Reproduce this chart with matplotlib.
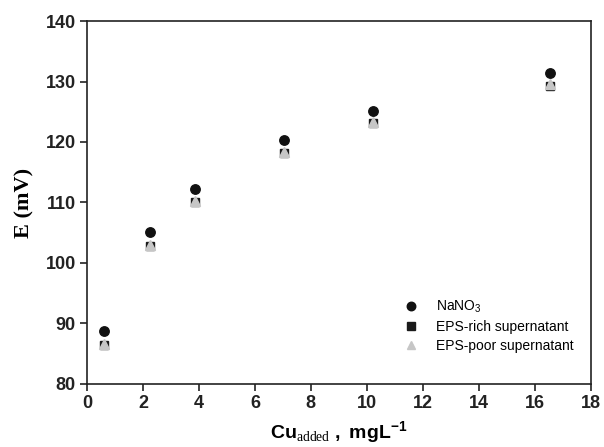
import matplotlib
matplotlib.use('Agg')
import matplotlib.pyplot as plt

cu_added = [0.62, 2.25, 3.85, 7.05, 10.22, 16.55]
e_nano3 = [88.8, 105.2, 112.3, 120.3, 125.2, 131.4]
e_eps_rich = [86.5, 102.8, 110.0, 118.2, 123.1, 129.3]
e_eps_poor = [86.6, 102.9, 110.3, 118.4, 123.3, 129.6]

x_ticks = list(range(0, 19, 2))
y_ticks = list(range(80, 141, 10))

plt.rcParams['mathtext.fontset'] = 'custom'
plt.rcParams['mathtext.rm'] = 'Liberation Serif'
plt.rcParams['mathtext.bf'] = 'Liberation Sans:bold'
plt.rcParams['mathtext.sf'] = 'Liberation Sans'
plt.rcParams['mathtext.it'] = 'Liberation Sans:italic'

fig = plt.figure(figsize=(6.04, 4.47), dpi=100)
ax = fig.add_axes([0.144, 0.141, 0.834, 0.812])

ax.plot(cu_added, e_nano3, 'o', color='#111111', ms=6.8, label=r'NaNO$_\mathsf{3}$', zorder=3)
ax.plot(cu_added, e_eps_rich, 's', color='#1a1a1a', ms=6.3, label='EPS-rich supernatant', zorder=3)
ax.plot(cu_added, e_eps_poor, '^', color='#c6c6c6', ms=7, label='EPS-poor supernatant', zorder=4)

ax.set_xlim(0, 18)
ax.set_ylim(80, 140)
ax.set_xticks(x_ticks)
ax.set_yticks(y_ticks)
for lab in ax.get_xticklabels() + ax.get_yticklabels():
    lab.set_fontfamily('Liberation Sans')
    lab.set_fontweight('bold')
    lab.set_fontsize(13)
ax.tick_params(direction='out', length=5, width=1.2, colors='#222222', pad=3)
for s in ax.spines.values():
    s.set_linewidth(1.2)
    s.set_color('#222222')

ax.set_ylabel('E (mV)', family='Liberation Serif', weight='bold', fontsize=16, labelpad=8)
ax.set_xlabel(r'$\mathbf{Cu}_{\mathrm{added}}\mathbf{\ ,\ mgL}^{\mathbf{-1}}$', fontsize=14, labelpad=5)

leg = ax.legend(loc='upper left', bbox_to_anchor=(0.629, 0.235), frameon=False,
                prop={'family': 'Liberation Sans', 'size': 10}, handlelength=1.0,
                handletextpad=1.3, labelspacing=0.35, borderpad=0, borderaxespad=0,
                markerscale=0.9)

fig.savefig('out.png', dpi=100)
